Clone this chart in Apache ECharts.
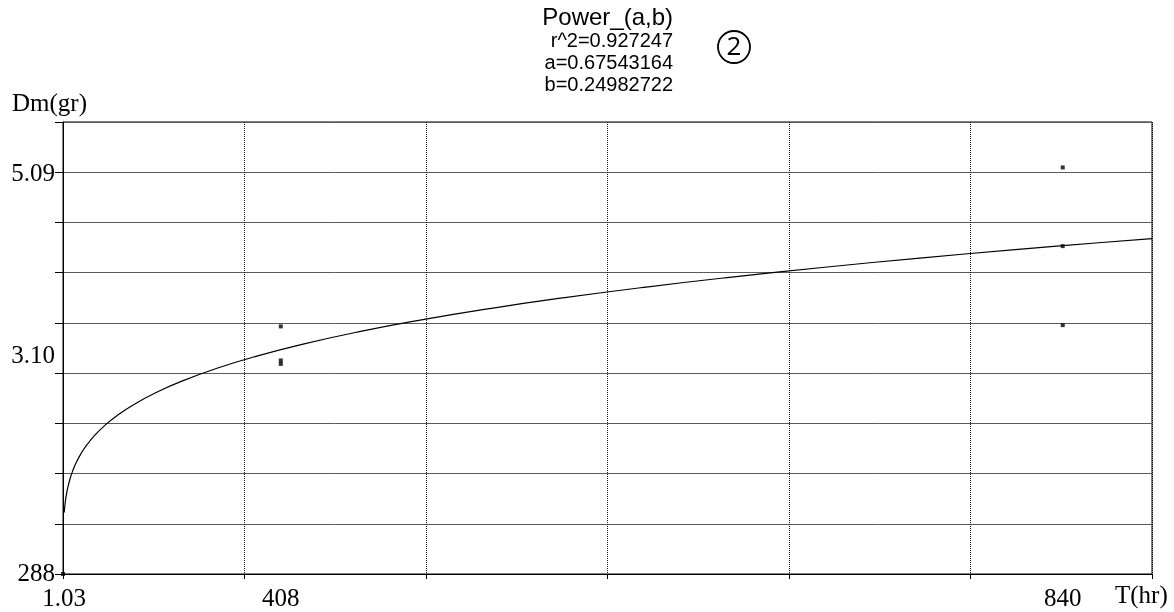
<!DOCTYPE html>
<html>
<head>
<meta charset="utf-8">
<title>Power_(a,b)</title>
<script src="https://cdn.jsdelivr.net/npm/echarts@6/dist/echarts.min.js"></script>
<style>
  html, body { margin: 0; padding: 0; background: #fff; }
  #chart { width: 1174px; height: 612px; }
</style>
</head>
<body>
<div id="chart"></div>
<script>
// Measured samples: elapsed time (hr) and Dm (gr)
const hours = [0, 183, 183, 183, 840, 840, 840];
const dm = [0, 2.739, 2.362, 2.324, 4.497, 3.627, 2.753];

// Power fit y = a * x^b
const fitName = 'Power_(a,b)';
const rSquared = '0.927247';
const fitA = 0.67543164;
const fitB = 0.24982722;

// Tick labels as printed on the axes
const xTickValues = [1.03, 183, 840];
const xTickLabels = ['1.03', '408', '840'];
const yTickValues = [0, 2.41, 4.42];
const yTickLabels = ['288', '3.10', '5.09'];

// Fitted curve, sampled from the fit parameters
const curveT = [1.03, 1.5, 2, 3, 4, 6, 8, 11, 15, 20, 27, 35, 45, 60, 80, 100, 130, 160,
  200, 250, 300, 360, 420, 490, 560, 640, 720, 800, 870, 915];
const curve = curveT.map(t => [t, fitA * Math.pow(t, fitB)]);
const points = hours.map((h, i) => [h, dm[i]]);

function pick(values, labels, v) {
  let best = 0;
  for (let i = 1; i < values.length; i++) {
    if (Math.abs(values[i] - v) < Math.abs(values[best] - v)) best = i;
  }
  return labels[best];
}

const serif = '"Liberation Serif", "DejaVu Serif", serif';
const sans = '"Liberation Sans", Arial, sans-serif';

const chart = echarts.init(document.getElementById('chart'), null, { renderer: 'canvas' });
chart.setOption({
  animation: false,
  backgroundColor: '#fff',
  grid: {
    left: 63, right: 22, top: 122, bottom: 36,
    show: true, borderColor: '#000', borderWidth: 1, backgroundColor: 'transparent'
  },
  xAxis: {
    type: 'value',
    min: 0, max: 915, interval: 152.5,
    axisLine: { show: true, onZero: false, lineStyle: { color: '#000', width: 1 } },
    axisTick: { show: true, inside: false, length: 5, lineStyle: { color: '#000' } },
    splitLine: { show: true, lineStyle: { color: '#111', type: [1, 1], width: 1 } },
    axisLabel: {
      customValues: xTickValues,
      formatter: v => pick(xTickValues, xTickLabels, v),
      color: '#000', fontFamily: serif, fontSize: 25, margin: 13
    }
  },
  yAxis: {
    type: 'value',
    min: 0, max: 5, interval: 5 / 9,
    axisLine: { show: true, onZero: false, lineStyle: { color: '#000', width: 1 } },
    axisTick: { show: true, inside: false, length: 8, lineStyle: { color: '#000' } },
    splitLine: { show: true, lineStyle: { color: '#5a5a5a', width: 1 } },
    axisLabel: {
      customValues: yTickValues,
      formatter: v => pick(yTickValues, yTickLabels, v),
      color: '#000', fontFamily: serif, fontSize: 25, margin: 8
    }
  },
  graphic: [
    { type: 'text', x: 12, y: 104, style: { text: 'Dm(gr)', font: '25px ' + serif, fill: '#000', verticalAlign: 'middle' } },
    { type: 'text', x: 1115, y: 596, style: { text: 'T(hr)', font: '25px ' + serif, fill: '#000', verticalAlign: 'middle' } },
    { type: 'text', x: 673, y: 18, style: { text: fitName, font: '24px ' + sans, fill: '#000', align: 'right', verticalAlign: 'middle' } },
    { type: 'text', x: 673, y: 41, style: { text: 'r^2=' + rSquared, font: '20px ' + sans, fill: '#000', align: 'right', verticalAlign: 'middle' } },
    { type: 'text', x: 673, y: 63, style: { text: 'a=' + fitA.toFixed(8), font: '20px ' + sans, fill: '#000', align: 'right', verticalAlign: 'middle' } },
    { type: 'text', x: 673, y: 85, style: { text: 'b=' + fitB.toFixed(8), font: '20px ' + sans, fill: '#000', align: 'right', verticalAlign: 'middle' } },
    { type: 'circle', shape: { cx: 734, cy: 47, r: 16 }, style: { fill: 'none', stroke: '#000', lineWidth: 1.8 } },
    { type: 'text', x: 734, y: 48, style: { text: '2', font: '26px "Open Sans", "DejaVu Sans", sans-serif', fill: '#000', align: 'center', verticalAlign: 'middle' } }
  ],
  series: [
    {
      type: 'line',
      data: curve,
      showSymbol: false,
      smooth: true,
      lineStyle: { color: '#000', width: 1.2 },
      z: 3
    },
    {
      type: 'scatter',
      data: points,
      symbol: 'rect',
      symbolSize: 4,
      itemStyle: { color: '#000' },
      clip: false,
      z: 4
    }
  ]
});
</script>
</body>
</html>
